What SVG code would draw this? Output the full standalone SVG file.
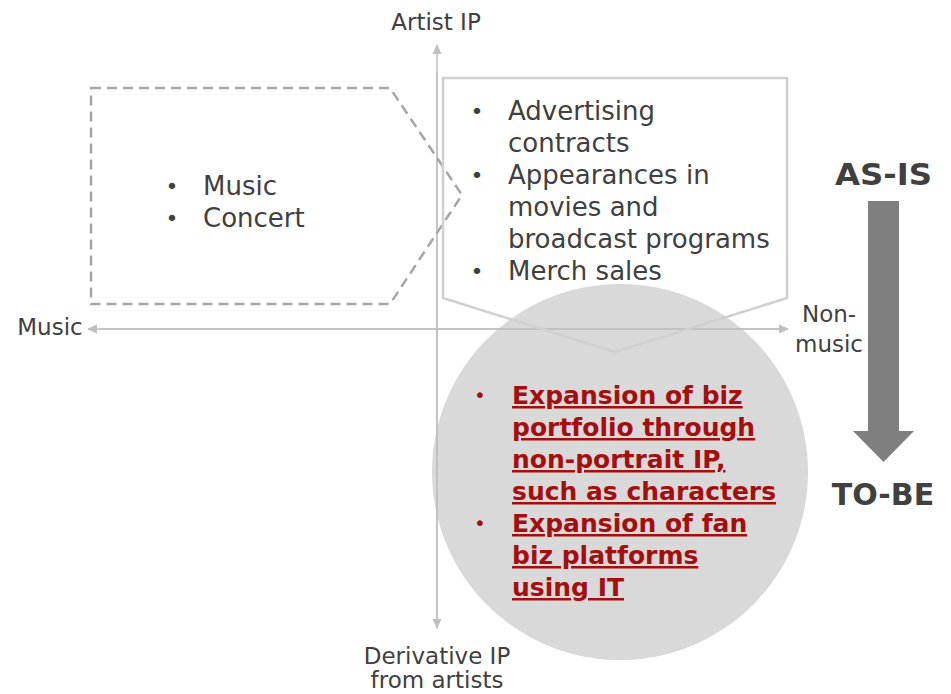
<svg xmlns="http://www.w3.org/2000/svg" width="951" height="694" viewBox="0 0 951 694">
  <style>
    .txt { font-family: "DejaVu Sans", Verdana, sans-serif; fill: #404040; }
    .axis-label { font-size: 23px; }
    .item { font-size: 26px; }
    .bullet { font-size: 22px; }
    .red { font-family: "DejaVu Sans", Verdana, sans-serif; font-weight: bold; font-size: 25px; fill: #a50e0e; }
    .red-bullet { font-family: "DejaVu Sans", Verdana, sans-serif; font-size: 20px; fill: #a50e0e; }
    .red-link { text-decoration: underline; }
    .stage { font-family: "DejaVu Sans", Verdana, sans-serif; font-weight: bold; font-size: 30px; fill: #404040; }
    .axis { stroke: #bfbfbf; stroke-width: 1.5; fill: none; }
  </style>
  <defs>
    <marker id="axisHead" viewBox="0 0 10 10" refX="9" refY="5" markerWidth="10" markerHeight="10" markerUnits="userSpaceOnUse" orient="auto">
      <path d="M0,0.5 L10,5 L0,9.5 Z" fill="#bfbfbf"/>
    </marker>
  </defs>

  <rect width="951" height="694" fill="#ffffff"/>

  <!-- TO-BE focus area -->
  <g id="focus-circle">
    <circle cx="620" cy="472" r="188" fill="#d9d9d9"/>
  </g>

  <!-- axes -->
  <g id="connectors">
    <line class="axis" x1="437" y1="628" x2="437" y2="45" marker-end="url(#axisHead)"/>
    <line class="axis" x1="437" y1="72" x2="437" y2="628" marker-end="url(#axisHead)"/>
    <line class="axis" x1="788" y1="329" x2="88" y2="329" marker-end="url(#axisHead)"/>
    <line class="axis" x1="100" y1="329" x2="788" y2="329" marker-end="url(#axisHead)"/>
  </g>

  <!-- axis labels -->
  <g id="label-artist-ip">
    <text class="txt axis-label" x="436" y="30" text-anchor="middle">Artist IP</text>
  </g>
  <g id="label-music">
    <text class="txt axis-label" x="50" y="335" text-anchor="middle">Music</text>
  </g>
  <g id="label-non-music">
    <text class="txt axis-label" x="829" y="322" text-anchor="middle">Non-</text>
    <text class="txt axis-label" x="829" y="352" text-anchor="middle">music</text>
  </g>
  <g id="label-derivative-ip">
    <text class="txt axis-label" x="437" y="664" text-anchor="middle">Derivative IP</text>
    <text class="txt axis-label" x="437" y="688" text-anchor="middle">from artists</text>
  </g>

  <!-- music business (dashed) -->
  <g id="music-business">
    <path d="M91,88 L390,88 L462,195 L390,304 L91,304 Z" fill="none" stroke="#a6a6a6" stroke-width="2.5" stroke-dasharray="10 6"/>
    <text class="txt bullet" x="172" y="194" text-anchor="middle">•</text>
    <text class="txt item" x="203" y="195">Music</text>
    <text class="txt bullet" x="172" y="226" text-anchor="middle">•</text>
    <text class="txt item" x="203" y="227">Concert</text>
  </g>

  <!-- non-music business -->
  <g id="non-music-business">
    <path d="M443,78 L787,78 L787,298 L615,352 L443,298 Z" fill="none" stroke="#d0d0d0" stroke-width="2.5"/>
    <text class="txt bullet" x="477" y="119" text-anchor="middle">•</text>
    <text class="txt item" x="508" y="120">Advertising</text>
    <text class="txt item" x="508" y="152">contracts</text>
    <text class="txt bullet" x="477" y="183" text-anchor="middle">•</text>
    <text class="txt item" x="508" y="184">Appearances in</text>
    <text class="txt item" x="508" y="216">movies and</text>
    <text class="txt item" x="508" y="248">broadcast programs</text>
    <text class="txt bullet" x="477" y="279" text-anchor="middle">•</text>
    <text class="txt item" x="508" y="280">Merch sales</text>
  </g>

  <!-- TO-BE initiatives -->
  <g id="to-be-initiatives">
    <text class="red-bullet" x="480" y="402" text-anchor="middle">•</text>
    <text class="red red-link" x="512" y="404">Expansion of biz</text>
    <text class="red red-link" x="512" y="436">portfolio through</text>
    <text class="red red-link" x="512" y="468">non-portrait IP,</text>
    <text class="red red-link" x="512" y="500">such as characters</text>
    <text class="red-bullet" x="480" y="530" text-anchor="middle">•</text>
    <text class="red red-link" x="512" y="532">Expansion of fan</text>
    <text class="red red-link" x="512" y="564">biz platforms</text>
    <text class="red red-link" x="512" y="596">using IT</text>
  </g>

  <!-- AS-IS to TO-BE transition -->
  <g id="as-is">
    <text class="stage" x="835" y="185" textLength="97" lengthAdjust="spacingAndGlyphs">AS-IS</text>
  </g>
  <g id="transition-arrow">
    <path d="M868,201 L899,201 L899,431 L914,431 L883.5,462 L853,431 L868,431 Z" fill="#7f7f7f"/>
  </g>
  <g id="to-be">
    <text class="stage" x="883" y="505" text-anchor="middle">TO-BE</text>
  </g>
</svg>
